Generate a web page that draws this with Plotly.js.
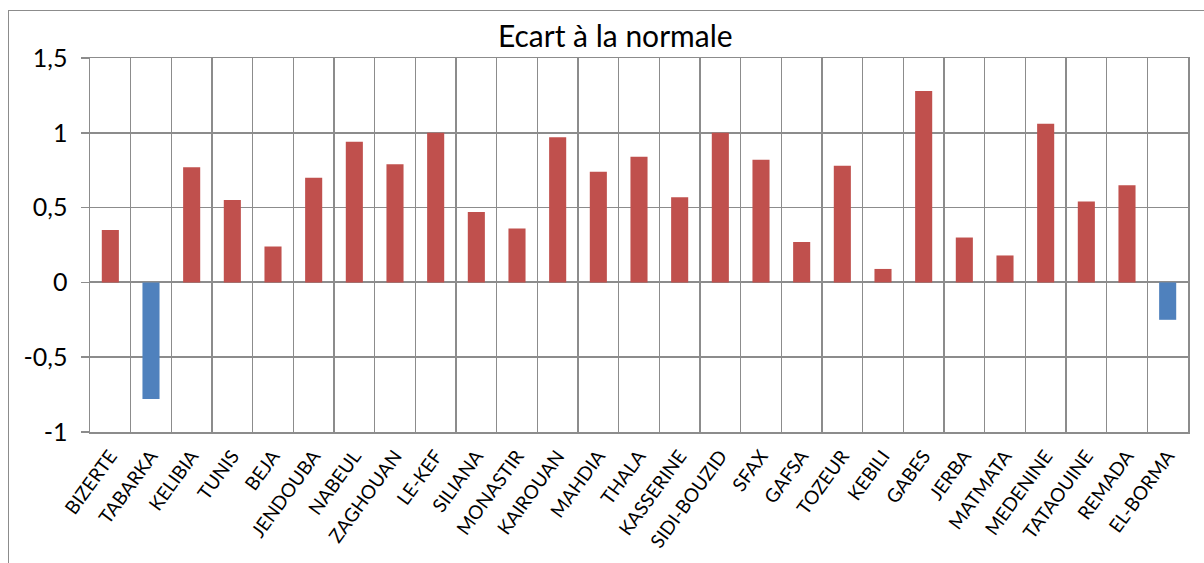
<!DOCTYPE html>
<html>
<head>
<meta charset="utf-8">
<script src="https://cdn.plot.ly/plotly-3.0.1.min.js"></script>
<style>
html,body{margin:0;padding:0;background:#fff;}
#chart{position:absolute;left:0;top:0;width:1204px;height:563px;}
#frame{position:absolute;left:8px;top:10px;width:1300px;height:700px;border:1px solid #8c8c8c;pointer-events:none;box-sizing:border-box;}
</style>
</head>
<body>
<div id="chart"></div>
<div id="frame"></div>
<script>
const stations = ["BIZERTE","TABARKA","KELIBIA","TUNIS","BEJA","JENDOUBA","NABEUL","ZAGHOUAN","LE-KEF","SILIANA","MONASTIR","KAIROUAN","MAHDIA","THALA","KASSERINE","SIDI-BOUZID","SFAX","GAFSA","TOZEUR","KEBILI","GABES","JERBA","MATMATA","MEDENINE","TATAOUINE","REMADA","EL-BORMA"];
const ecart = [0.35,-0.78,0.77,0.55,0.24,0.70,0.94,0.79,1.00,0.47,0.36,0.97,0.74,0.84,0.57,1.00,0.82,0.27,0.78,0.09,1.28,0.30,0.18,1.06,0.54,0.65,-0.25];
const yTickVals = [-1,-0.5,0,0.5,1,1.5];
const yTickText = ["-1","-0,5","0","0,5","1","1,5"];

const posColor = "#C0504D", negColor = "#4F81BD";
const font = "Lato, 'Open Sans', sans-serif";

const trace = {
  type: "bar",
  x: stations,
  y: ecart,
  marker: {color: ecart.map(v => v < 0 ? negColor : posColor)},
  hoverinfo: "x+y"
};

const layout = {
  width: 1204, height: 563,
  margin: {l: 90, r: 16, t: 58, b: 131},
  paper_bgcolor: "rgba(0,0,0,0)",
  plot_bgcolor: "#fff",
  bargap: 0.58,
  separators: ", ",
  showlegend: false,
  title: {text: "Ecart à la normale", x: 0.511, xref: "container", xanchor: "center", y: 0.935, yanchor: "middle", yref: "container",
          font: {family: font, size: 30, color: "#000"}},
  xaxis: {
    type: "category",
    tickson: "boundaries",
    showgrid: true, gridcolor: "#8c8c8c", gridwidth: 1.5,
    showline: true, linecolor: "#8c8c8c", linewidth: 1.5, mirror: true,
    ticks: "", tickangle: -54, ticklabelstandoff: 4,
    tickfont: {family: font, size: 19, color: "#000"},
    zeroline: false
  },
  yaxis: {
    range: [-1, 1.5],
    tickvals: yTickVals, ticktext: yTickText,
    showgrid: true, gridcolor: "#8c8c8c", gridwidth: 1.5,
    zeroline: true, zerolinecolor: "#8c8c8c", zerolinewidth: 2,
    showline: true, linecolor: "#8c8c8c", linewidth: 1.5, mirror: true,
    ticks: "outside", ticklen: 8, tickcolor: "#8c8c8c", tickwidth: 1.5,
    ticklabelstandoff: 8,
    tickfont: {family: font, size: 25, color: "#000"},
    fixedrange: true
  }
};

Plotly.newPlot("chart", [trace], layout, {displayModeBar: false, staticPlot: true});
</script>
</body>
</html>
